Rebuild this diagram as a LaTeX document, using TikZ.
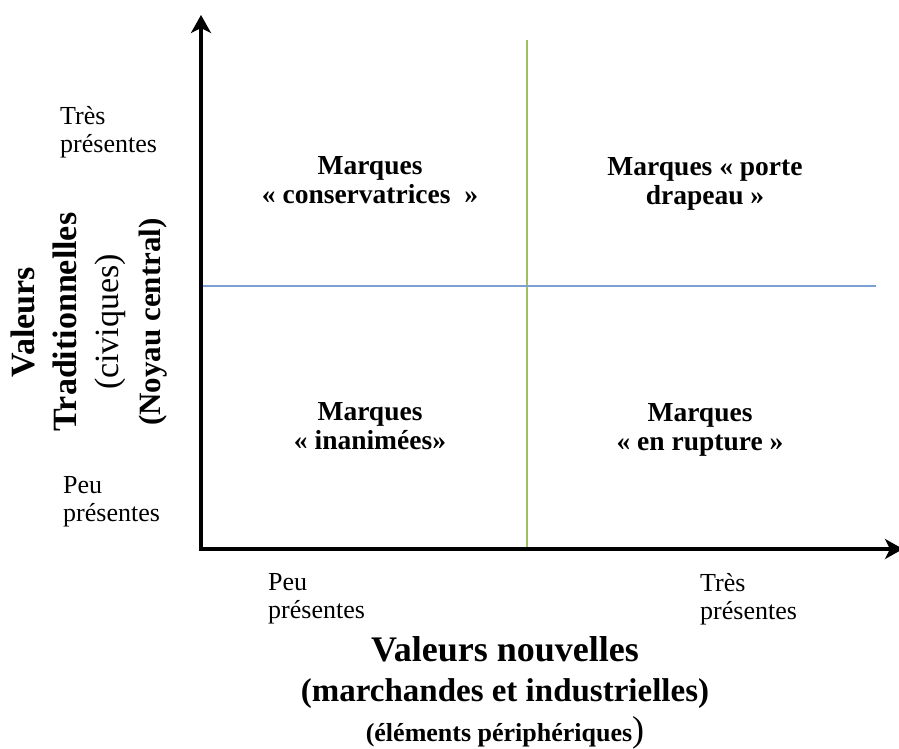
\documentclass[tikz,border=0pt]{standalone}
\usepackage{fontspec}
\setmainfont{Liberation Serif}
\usetikzlibrary{arrows.meta,positioning}
\definecolor{quadblue}{RGB}{124,160,210}
\definecolor{quadgreen}{RGB}{160,190,100}

\tikzset{
	axis/.style={line width=4pt, line join=miter,
		{Stealth[length=18pt,width=20pt,inset=5pt]}-{Stealth[length=18pt,width=20pt,inset=5pt]}},
	brand/.style={font=\fontsize{27.5}{29}\selectfont\bfseries, align=center},
	level/.style={font=\fontsize{26}{28}\selectfont, align=left, anchor=west, inner sep=0pt},
	divider/.style={line width=1.6pt},
}

\begin{document}
\begin{tikzpicture}[x=1pt,y=-1pt]
	\useasboundingbox (0,0) rectangle (899,749);
	
	\coordinate (O) at (201,549);
	\coordinate (ytop) at (201,15);
	\coordinate (xend) at (903,549);
	\coordinate (vtop) at (527,40);
	\coordinate (vbot) at (527,549);
	\coordinate (hleft) at (201,286);
	\coordinate (hright) at (876,286);
	
	% quadrants
	\draw[divider, quadgreen] (vtop) -- (vbot);
	\draw[divider, quadblue] (hleft) -- (hright);
	\draw[axis] (ytop) -- (O) -- (xend);
	
	\node[brand] (conserv) at (370,180) {Marques\\«~conservatrices\ \ »};
	\node[brand] (drapeau) at (705,184) {Marques «~porte\\drapeau~»};
	\node[brand] (inanim) at (370,426) {Marques\\«~inanimées»};
	\node[brand] (rupture) at (700,430) {Marques\\«~en rupture~»};
	
	% levels on the axes
	\node[level] (ytres) at (60,132) {Très\\présentes};
	\node[level] (ypeu) at (63,502) {Peu\\présentes};
	\node[level] (xpeu) at (268,599) {Peu\\présentes};
	\node[level] (xtres) at (700,599) {Très\\présentes};
	
	% axis titles
	\node[rotate=90, font=\fontsize{34}{42}\selectfont\bfseries, align=center] (ylabel) at (89,322)
		{Valeurs\\Traditionnelles\\{\mdseries(civiques)}\\{\fontsize{31}{42}\selectfont(Noyau central)}};
	\node[font=\fontsize{36}{40}\selectfont\bfseries, align=center] (xlabel) at (505,693)
		{Valeurs nouvelles\\{\fontsize{33}{38}\selectfont(marchandes et industrielles)}\\{\fontsize{26}{40}\selectfont(éléments périphériques}{\mdseries\fontsize{36}{40}\selectfont)}};
\end{tikzpicture}
\end{document}
